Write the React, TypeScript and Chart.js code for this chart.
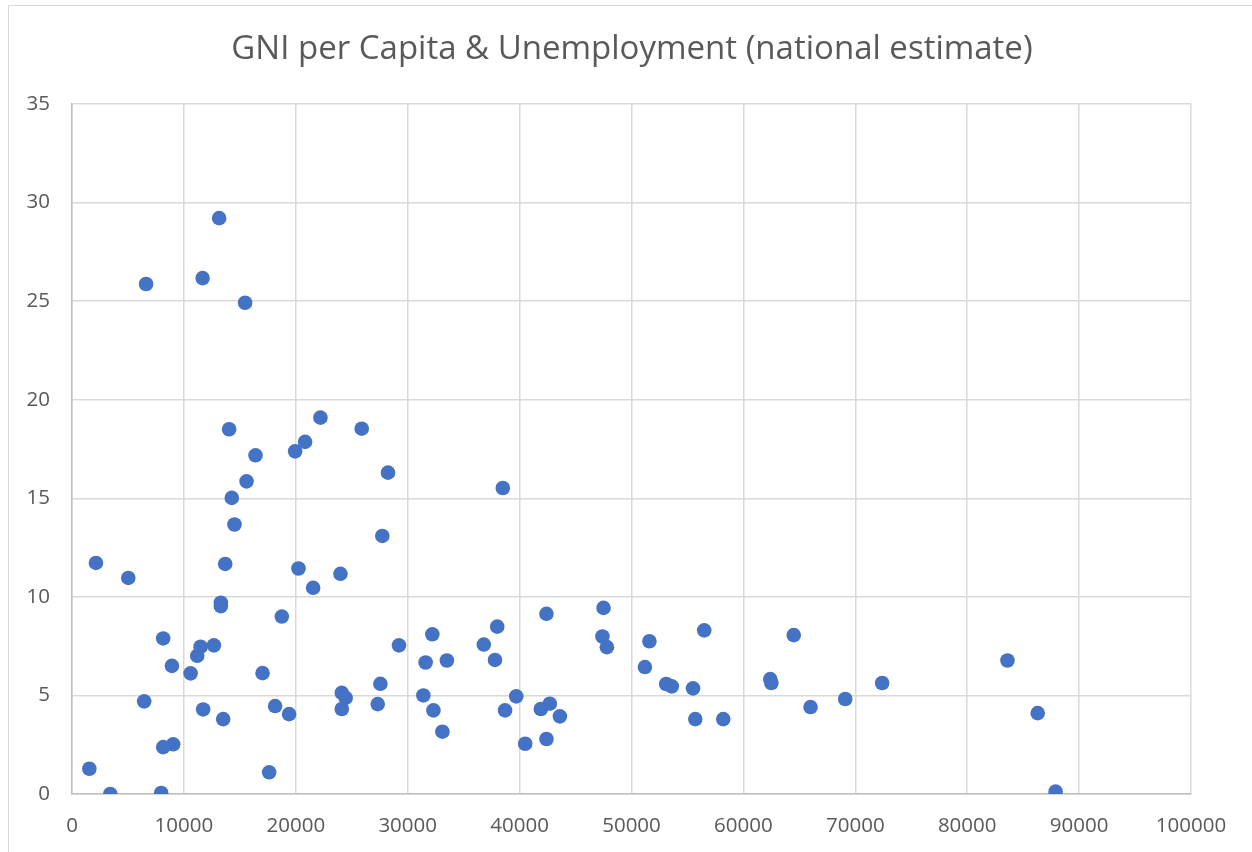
import React, { useEffect, useRef } from "react";
import { Chart, registerables } from "chart.js";

Chart.register(...registerables);

const chartTitle = "GNI per Capita & Unemployment (national estimate)";

const gniPerCapita = [
  1550, 3420, 7970, 2140, 5030, 6620, 11670, 13150, 15470, 6450,
  8150, 8930, 8150, 9040, 10600, 11190, 11490, 12680, 11720, 13510,
  13300, 13300, 13690, 14040, 14280, 14520, 15600, 16400, 17030, 17620,
  18150, 18750, 19400, 19940, 20830, 22200, 20240, 21550, 23990, 25890,
  28240, 27730, 24110, 24460, 24110, 27560, 27320, 29220, 31600, 31400,
  32200, 32300, 33100, 33500, 36800, 38000, 37800, 38500, 38700, 39700,
  40500, 41900, 42700, 42400, 42400, 43600, 47500, 47400, 47800, 51600,
  51200, 53100, 53600, 55500, 55700, 58200, 56500, 62400, 62500, 64500,
  66000, 69100, 72400, 83600, 86300, 87900,
];

const unemployment = [
  1.28, 0.0, 0.05, 11.72, 10.96, 25.87, 26.17, 29.21, 24.92, 4.7,
  7.89, 6.5, 2.38, 2.52, 6.12, 7.01, 7.47, 7.54, 4.29, 3.8,
  9.7, 9.53, 11.67, 18.5, 15.02, 13.67, 15.86, 17.18, 6.13, 1.1,
  4.46, 9.0, 4.05, 17.38, 17.86, 19.09, 11.44, 10.46, 11.17, 18.53,
  16.3, 13.09, 5.13, 4.88, 4.31, 5.59, 4.56, 7.54, 6.67, 5.0,
  8.1, 4.24, 3.16, 6.77, 7.58, 8.49, 6.8, 15.52, 4.24, 4.95,
  2.55, 4.31, 4.58, 9.14, 2.79, 3.94, 9.44, 7.99, 7.45, 7.75,
  6.44, 5.58, 5.46, 5.36, 3.8, 3.8, 8.3, 5.83, 5.63, 8.06,
  4.41, 4.82, 5.63, 6.77, 4.1, 0.12,
];

const xTickStep = 10000;
const xMax = 100000;
const yTickStep = 5;
const yMax = 35;

const FONT = "'Open Sans', sans-serif";

export default function App() {
  const canvasRef = useRef<HTMLCanvasElement | null>(null);

  useEffect(() => {
    if (!canvasRef.current) return;
    const points = gniPerCapita.map((x, i) => ({ x, y: unemployment[i] }));
    const chart = new Chart(canvasRef.current, {
      type: "scatter",
      data: {
        datasets: [
          {
            label: "Unemployment",
            data: points,
            backgroundColor: "#4472C4",
            borderColor: "#4472C4",
            borderWidth: 0,
            pointRadius: 7.3,
            pointHoverRadius: 7.3,
          },
        ],
      },
      options: {
        responsive: false,
        animation: false,
        layout: { padding: { left: 12, top: 0, right: 0, bottom: 0 } },
        plugins: {
          legend: { display: false },
          tooltip: { enabled: false },
          title: {
            display: true,
            text: chartTitle,
            color: "#595959",
            font: { family: FONT, size: 33, weight: "normal" },
            padding: { top: 30, bottom: 34.4 },
          },
        },
        scales: {
          x: {
            type: "linear",
            min: 0,
            max: xMax,
            afterFit: (axis: any) => {
              axis.height = 58;
            },
            ticks: {
              stepSize: xTickStep,
              color: "#595959",
              padding: 20,
              maxRotation: 0,
              font: { family: FONT, size: 20.5 },
              callback: (v: any) => String(v),
            },
            grid: { color: "#d9d9d9", lineWidth: 1.5, drawTicks: false },
            border: { color: "#bfbfbf", width: 1.5 },
          },
          y: {
            type: "linear",
            position: "left",
            min: 0,
            max: yMax,
            afterFit: (axis: any) => {
              axis.width = 60;
            },
            ticks: {
              stepSize: yTickStep,
              color: "#595959",
              padding: 22,
              font: { family: FONT, size: 20.5 },
              callback: (v: any) => String(v),
            },
            grid: { color: "#d9d9d9", lineWidth: 1.5, drawTicks: false },
            border: { color: "#bfbfbf", width: 1.5 },
          },
          yRightSpace: {
            type: "linear",
            position: "right",
            display: true,
            min: 0,
            max: yMax,
            afterFit: (axis: any) => {
              axis.width = 61;
            },
            ticks: { display: false },
            grid: { display: false, drawTicks: false },
            border: { display: false },
          },
        },
      },
    });
    return () => chart.destroy();
  }, []);

  return (
    <div
      style={{
        position: "absolute",
        left: 0,
        top: 0,
        width: 1252,
        height: 852,
        overflow: "hidden",
        background: "#ffffff",
      }}
    >
      <div
        style={{
          position: "absolute",
          left: 8,
          top: 5,
          width: 1400,
          height: 1000,
          border: "1.5px solid #d9d9d9",
        }}
      />
      <canvas
        ref={canvasRef}
        width={1252}
        height={852}
        style={{ position: "absolute", left: 0, top: 0 }}
      />
    </div>
  );
}
